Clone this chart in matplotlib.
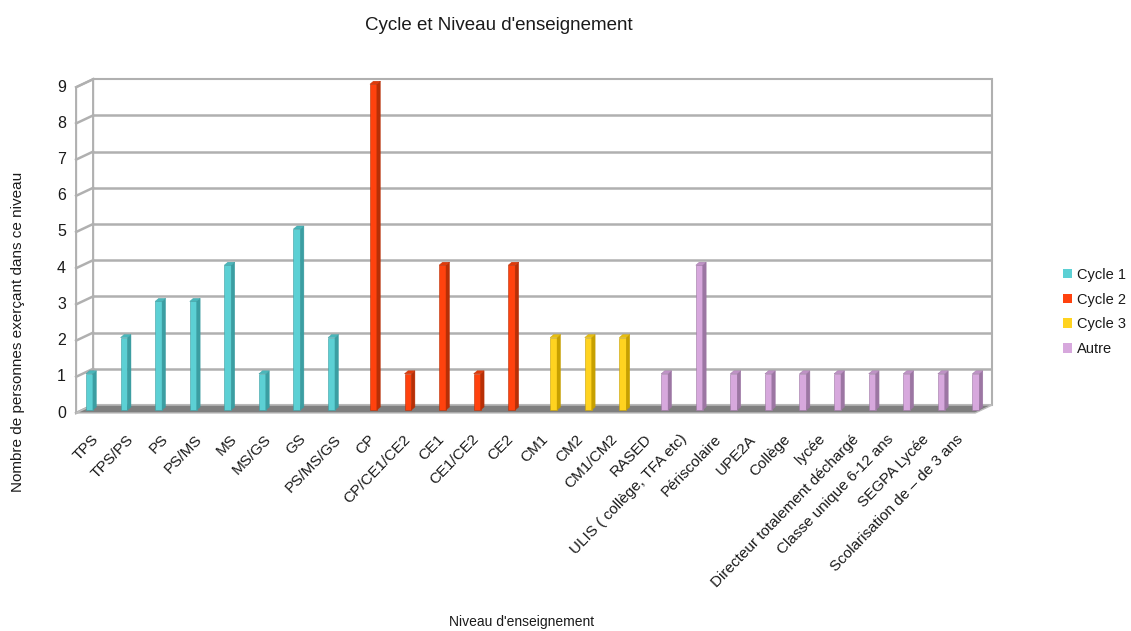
import matplotlib
matplotlib.use('Agg')
import matplotlib.pyplot as plt
from matplotlib import transforms
from matplotlib.patches import Polygon, Patch

plt.rcParams['font.family'] = ['Liberation Sans', 'DejaVu Sans']

# ---------------- data ----------------
categories = ["TPS", "TPS/PS", "PS", "PS/MS", "MS", "MS/GS", "GS", "PS/MS/GS",
              "CP", "CP/CE1/CE2", "CE1", "CE1/CE2", "CE2",
              "CM1", "CM2", "CM1/CM2",
              "RASED", "ULIS ( collège, TFA etc)", "Périscolaire", "UPE2A",
              "Collège", "lycée", "Directeur totalement déchargé",
              "Classe unique 6-12 ans", "SEGPA Lycée", "Scolarisation de – de 3 ans"]
values = [1, 2, 3, 3, 4, 1, 5, 2,
          9, 1, 4, 1, 4,
          2, 2, 2,
          1, 4, 1, 1, 1, 1, 1, 1, 1, 1]
series_names = ["Cycle 1", "Cycle 2", "Cycle 3", "Autre"]
category_series = [0] * 8 + [1] * 5 + [2] * 3 + [3] * 10
y_ticks = list(range(0, 10))

front_colors = ["#5cd0d4", "#ff420e", "#ffd320", "#d7a8dd"]
side_colors = ["#3b9ea2", "#b82f06", "#c7a000", "#9c76a3"]
top_colors = ["#49b7bb", "#e03a0a", "#e8bf10", "#bf92c6"]

TXT = "#1a1a1a"
GRID = "#b0b0b0"

# ---------------- figure ----------------
W, H = 1131, 631
fig = plt.figure(figsize=(W / 100, H / 100), dpi=100)
fig.patch.set_facecolor("white")

ax = fig.add_axes([83.1 / W, 1 - 410 / H, (982.2 - 83.1) / W, 325.8 / H])
n = len(categories)
ax.set_xlim(-0.5, n - 0.5)
ax.set_ylim(0, 9)
ax.axis('off')
ax.patch.set_visible(False)

BACK = (10, 5)
FRONT = (-7, -3)
BAR_D = (3.5, 3)
IDT = transforms.IdentityTransform()


def off(dx, dy):
    return transforms.offset_copy(ax.transData, fig=fig, x=dx, y=dy, units='dots')


def pt(x, y, d=(0, 0)):
    px, py = ax.transData.transform((x, y))
    return (px + d[0], py + d[1])


x0, x1 = -0.5, n - 0.5
ymax = 9

# back wall
ax.add_patch(Polygon([pt(x0, 0, BACK), pt(x1, 0, BACK), pt(x1, ymax, BACK), pt(x0, ymax, BACK)],
                     closed=True, facecolor="white", edgecolor=GRID, lw=1.5,
                     transform=IDT, clip_on=False, zorder=0))
for v in y_ticks[1:-1]:
    ax.plot([x0, x1], [v, v], transform=off(*BACK), color=GRID, lw=1.8,
            clip_on=False, zorder=1, solid_capstyle='butt')

# left wall
ax.add_patch(Polygon([pt(x0, 0, FRONT), pt(x0, 0, BACK), pt(x0, ymax, BACK), pt(x0, ymax, FRONT)],
                     closed=True, facecolor="white", edgecolor=GRID, lw=1.5,
                     transform=IDT, clip_on=False, zorder=0))
for v in y_ticks:
    a = pt(x0, v, FRONT)
    b = pt(x0, v, BACK)
    ax.plot([a[0], b[0]], [a[1], b[1]], transform=IDT, color=GRID, lw=1.8,
            clip_on=False, zorder=1)

# floor
ax.add_patch(Polygon([pt(x0, 0, FRONT), pt(x1, 0, FRONT), pt(x1, 0, BACK), pt(x0, 0, BACK)],
                     closed=True, facecolor="#7f7f7f", edgecolor="#bdbdbd", lw=1.0,
                     transform=IDT, clip_on=False, zorder=1))

# bars
slot = 0.211
bw = 0.2
for s, name in enumerate(series_names):
    idx = [i for i in range(n) if category_series[i] == s]
    xs = [i + (s - 1.5) * slot for i in idx]
    vs = [values[i] for i in idx]
    ax.bar(xs, vs, width=bw, color=front_colors[s], edgecolor=side_colors[s],
           lw=0.4, zorder=3, clip_on=False)
    for x, v in zip(xs, vs):
        xr = x + bw / 2
        xl = x - bw / 2
        ax.add_patch(Polygon([pt(xr, 0), pt(xr, 0, BAR_D), pt(xr, v, BAR_D), pt(xr, v)],
                             closed=True, facecolor=side_colors[s], edgecolor=side_colors[s],
                             lw=0.3, transform=IDT, clip_on=False, zorder=3))
        ax.add_patch(Polygon([pt(xl, v), pt(xr, v), pt(xr, v, BAR_D), pt(xl, v, BAR_D)],
                             closed=True, facecolor=top_colors[s], edgecolor=side_colors[s],
                             lw=0.3, transform=IDT, clip_on=False, zorder=3))

# y tick labels
for v in y_ticks:
    ax.text(x0, v, str(v), transform=off(FRONT[0] - 10, FRONT[1]), ha='right', va='center',
            fontsize=11.5, color=TXT, clip_on=False)

# x tick labels
for i, c in enumerate(categories):
    ax.text(i, 0, c, transform=off(-9, -22), rotation=46, rotation_mode='anchor',
            ha='right', va='top', fontsize=11, color=TXT, clip_on=False)

# titles
fig.text(499 / W, 1 - 25 / H, "Cycle et Niveau d'enseignement", ha='center', va='center',
         fontsize=13.5, color=TXT)
fig.text(522 / W, 1 - 622 / H, "Niveau d'enseignement", ha='center', va='center',
         fontsize=10, color=TXT)
fig.text(18 / W, 1 - 332 / H, "Nombre de personnes exerçant dans ce niveau", ha='center',
         va='center', rotation=90, fontsize=11, color=TXT)

# legend
handles = [Patch(facecolor=front_colors[s], edgecolor='none') for s in range(4)]
fig.legend(handles, series_names, loc='center left', bbox_to_anchor=(1063 / W, 1 - 312 / H),
           frameon=False, fontsize=10.5, handlelength=0.65, handleheight=0.65,
           handletextpad=0.3, labelspacing=0.75, labelcolor=TXT,
           borderaxespad=0, borderpad=0)

fig.savefig("out.png", dpi=100, facecolor="white")
